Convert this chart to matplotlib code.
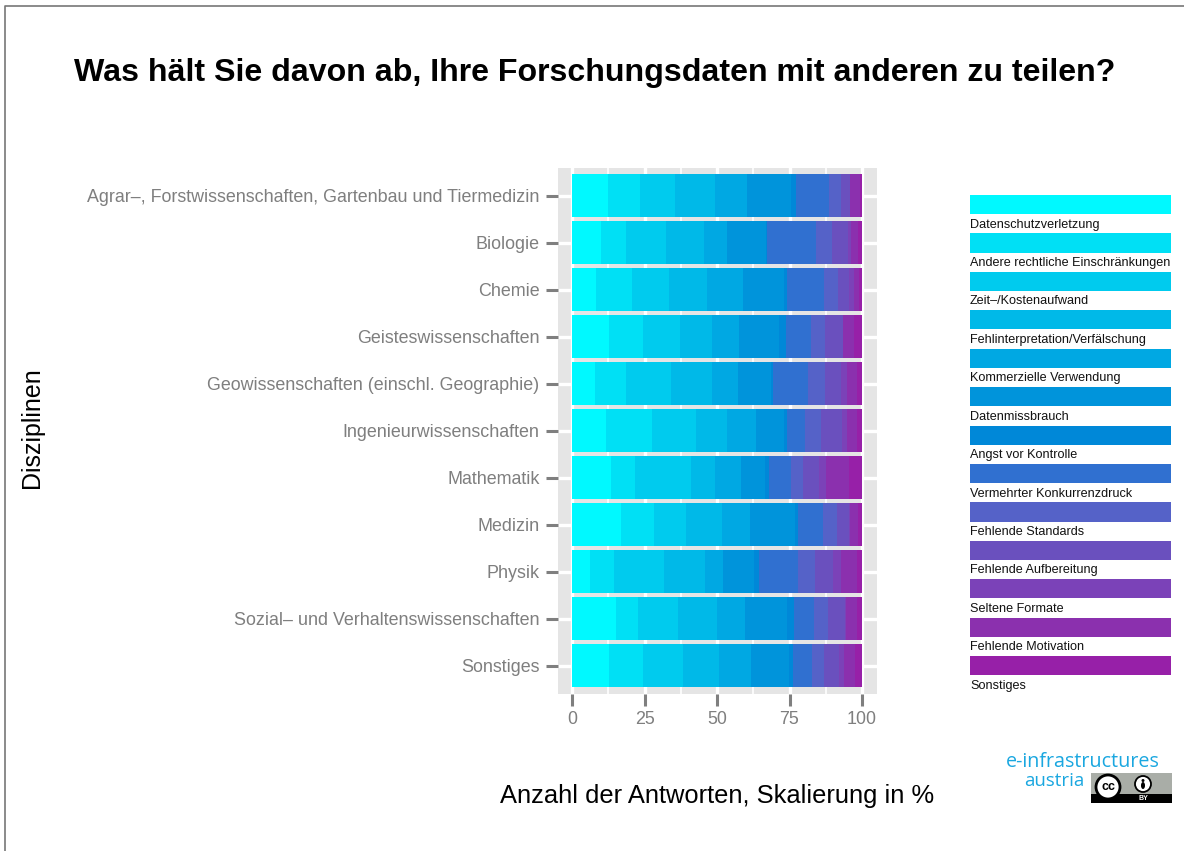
#!/usr/bin/env python
# Stacked bars: reasons not to share research data, per discipline

import numpy as np
import matplotlib
matplotlib.use('Agg')
import matplotlib.pyplot as plt
from matplotlib.patches import Rectangle, Circle, Ellipse

W, H = 1184, 851

disciplines = ['Agrar–, Forstwissenschaften, Gartenbau und Tiermedizin', 'Biologie', 'Chemie',
               'Geisteswissenschaften', 'Geowissenschaften (einschl. Geographie)',
               'Ingenieurwissenschaften', 'Mathematik', 'Medizin', 'Physik',
               'Sozial– und Verhaltenswissenschaften', 'Sonstiges']

reasons = ['Datenschutzverletzung', 'Andere rechtliche Einschränkungen', 'Zeit–/Kostenaufwand',
           'Fehlinterpretation/Verfälschung', 'Kommerzielle Verwendung', 'Datenmissbrauch',
           'Angst vor Kontrolle', 'Vermehrter Konkurrenzdruck', 'Fehlende Standards',
           'Fehlende Aufbereitung', 'Seltene Formate', 'Fehlende Motivation', 'Sonstiges']

reason_colors = ['#00F9FF', '#00E0F5', '#00CBEE', '#00B9E8', '#00A8E3', '#0094DB', '#0088D8',
                 '#3070D0', '#5562C8', '#6A50BE', '#7B42B8', '#8B30AE', '#9720A8']

# one row per discipline, one column per reason (percent)
agrar = [12.4, 11.0, 12.1, 13.8, 11.0, 15.2, 1.7, 11.4, 4.1, 3.1, 0.1, 3.3, 0.7]
biologie = [10.0, 8.6, 13.8, 13.1, 7.9, 13.5, 0.2, 17.2, 5.4, 5.5, 1.0, 2.4, 1.4]
chemie = [8.3, 12.4, 12.7, 13.2, 12.4, 14.1, 1.0, 12.9, 4.8, 3.7, 1.7, 1.8, 1.0]
geistes = [12.8, 11.7, 12.8, 11.0, 9.3, 13.8, 2.4, 8.6, 4.9, 6.0, 0.1, 3.9, 2.8]
geo = [7.9, 10.7, 15.5, 14.1, 9.0, 11.4, 0.7, 12.1, 6.0, 5.4, 2.1, 3.4, 1.7]
ingenieur = [11.7, 15.9, 15.2, 10.7, 10.0, 9.7, 1.0, 6.2, 5.3, 7.5, 1.7, 3.4, 1.7]
mathematik = [13.4, 8.3, 19.3, 8.3, 9.0, 8.3, 1.3, 7.6, 4.2, 5.5, 2.4, 7.9, 4.5]
medizin = [16.9, 11.4, 11.0, 12.4, 9.7, 15.5, 1.0, 8.7, 4.8, 4.1, 0.4, 2.7, 1.4]
physik = [6.2, 8.3, 17.2, 14.2, 6.2, 10.7, 1.7, 13.4, 5.9, 6.2, 2.8, 5.5, 1.7]
sozial = [15.2, 7.6, 13.8, 13.4, 9.7, 14.4, 2.5, 6.8, 4.9, 6.0, 0.1, 3.9, 1.7]
sonstiges = [12.8, 11.7, 13.8, 12.4, 11.0, 13.1, 1.4, 6.6, 4.1, 5.2, 1.7, 3.8, 2.4]

shares = np.array([agrar, biologie, chemie, geistes, geo, ingenieur, mathematik,
                   medizin, physik, sozial, sonstiges])

plt.rcParams['font.family'] = ['Liberation Sans', 'DejaVu Sans']

fig = plt.figure(figsize=(W / 100, H / 100), dpi=100)


# pixel positions of the reference, y from the top
def fx(px):
    return px / W


def fy(py):
    return 1 - py / H


# frame line at the top and left edge
fig.add_artist(plt.Line2D([fx(4.5), fx(4.5), 1], [0, fy(5.5), fy(5.5)], color='#777777', lw=1.2))

fig.text(fx(594.5), fy(73), 'Was hält Sie davon ab, Ihre Forschungsdaten mit anderen zu teilen?',
         ha='center', va='center', fontsize=23.1, fontweight='bold', color='black')

# main panel
ax = fig.add_axes([fx(557.5), fy(694), (876.5 - 557.5) / W, (694 - 167.5) / H])
ax.set_facecolor('#E5E5E5')
for s in ax.spines.values():
    s.set_visible(False)

ypos = np.arange(len(disciplines))
left = np.zeros(len(disciplines))
for j, reason in enumerate(reasons):
    ax.barh(ypos, shares[:, j], left=left, height=0.915, color=reason_colors[j], linewidth=0, zorder=3)
    left += shares[:, j]

ax.set_xlim(-5, 105)
ax.set_ylim(len(disciplines) - 0.4, -0.6)
ax.set_xticks([0, 25, 50, 75, 100])
ax.set_xticks([12.5, 37.5, 62.5, 87.5], minor=True)
ax.set_yticks(ypos)
ax.set_yticklabels(disciplines)
ax.grid(which='major', color='white', lw=2.4, zorder=1)
ax.grid(which='minor', axis='x', color='white', lw=1.2, zorder=1)
ax.set_axisbelow(True)
ax.tick_params(axis='both', which='major', length=8.5, width=2.2, color='#7F7F7F',
               labelcolor='#7F7F7F', labelsize=12.87, pad=4.5)
ax.tick_params(axis='x', which='major', pad=3.8)
ax.tick_params(axis='both', which='minor', length=0)

fig.text(fx(717), fy(796), 'Anzahl der Antworten, Skalierung in %', ha='center', va='center',
         fontsize=18.4)
fig.text(fx(32), fy(428), 'Disziplinen', ha='center', va='center', rotation=90, fontsize=18)

# legend: colour key with its label underneath
leg = fig.add_axes([fx(970), fy(694.5), 201 / W, (694.5 - 195) / H])
leg.axis('off')
leg.set_xlim(0, 1)
leg.set_ylim(13, 0)
for i, reason in enumerate(reasons):
    leg.barh(i, 1, left=0, height=0.5, align='edge', color=reason_colors[i], linewidth=0)
    leg.text(0, i + 0.77, reason, ha='left', va='center', fontsize=9.1, color='#111111')

# logo and licence badge
logo_color = '#1AA7E0'
fig.text(fx(1160), fy(762), 'e-infrastructures', ha='right', va='center', fontsize=14.2, color=logo_color,
         family='Open Sans')
fig.text(fx(1084), fy(780.5), 'austria', ha='right', va='center', fontsize=13.4, color=logo_color,
         family='Open Sans')

badge = fig.add_axes([fx(1091), fy(803), 81 / W, 30 / H])
badge.axis('off')
badge.set_xlim(0, 81)
badge.set_ylim(30, 0)
badge.add_patch(Rectangle((0, 0), 81, 30, facecolor='#A9ADA7', edgecolor='none'))
badge.add_patch(Rectangle((0, 21), 81, 9, facecolor='black', edgecolor='none'))
badge.add_patch(Circle((17, 14), 12, facecolor='white', edgecolor='black', lw=2, zorder=3))
badge.text(17, 14, 'cc', ha='center', va='center', fontsize=9, fontweight='bold', color='black', zorder=4)
badge.add_patch(Circle((52, 11), 8, facecolor='white', edgecolor='black', lw=1.3, zorder=3))
badge.add_patch(Circle((52, 7.5), 1.5, facecolor='black', edgecolor='none', zorder=4))
badge.add_patch(Ellipse((52, 12.5), 4, 7, facecolor='black', edgecolor='none', zorder=4))
badge.text(52, 25.5, 'BY', ha='center', va='center', fontsize=5, fontweight='bold', color='white', zorder=4)

fig.savefig('out.png', dpi=100)
plt.close(fig)
